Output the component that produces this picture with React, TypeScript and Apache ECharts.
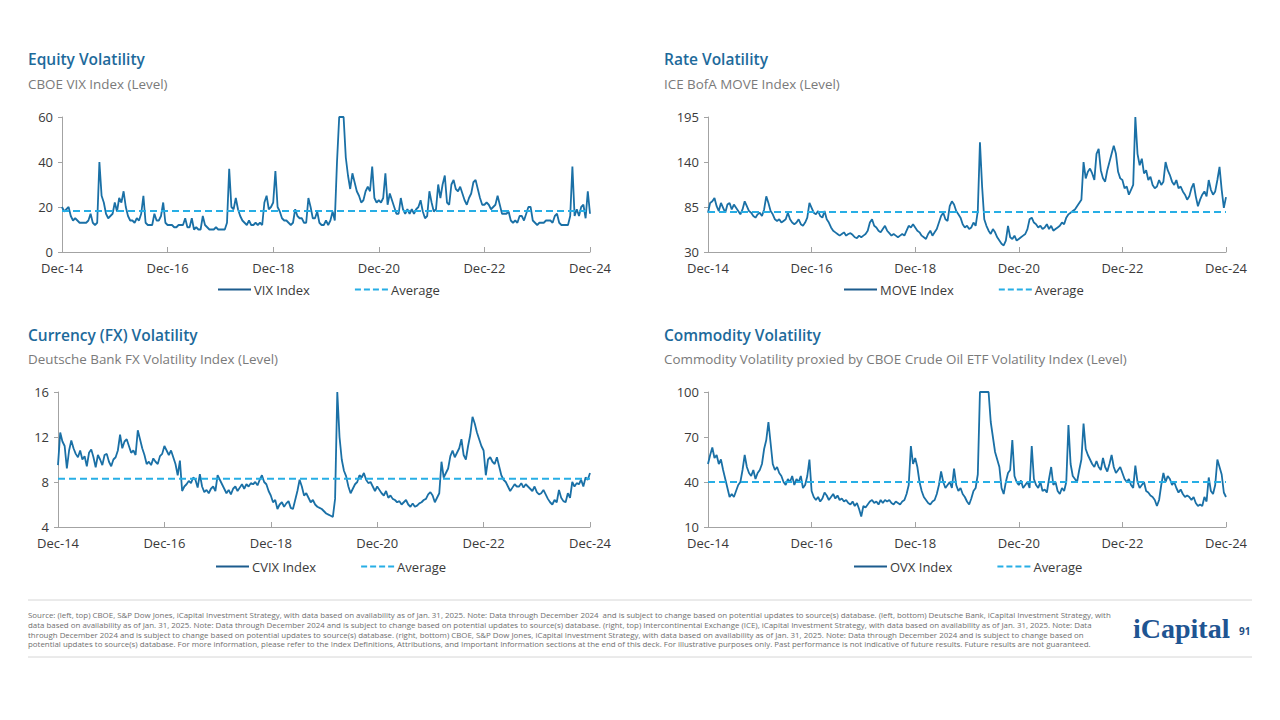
import React, { useEffect, useRef } from "react";
import * as echarts from "echarts";

// Semi-monthly readings, Dec-2014 .. Dec-2024 (241 points each)
const vixValues = [
  20,18, 19,20, 16,14, 15,14, 13,13, 13,13, 14,17, 13,12, 13,40, 25,22, 17,15, 16,17,
  22,18, 24,22, 27,20, 16,14, 14,13, 15,14, 17,25, 13,12, 12,12, 17,14, 14,16, 22,13,
  12,12, 12,11, 11,12, 12,12, 15,11, 11,15, 10,11, 10,10, 16,12, 11,10, 10,10, 11,10,
  10,10, 10,13, 37,20, 19,24, 19,16, 14,13, 12,14, 12,12, 13,12, 13,12, 22,25, 19,20,
  22,36, 20,18, 15,14, 14,13, 12,13, 19,16, 15,15, 13,13, 24,20, 15,15, 18,13, 12,12,
  14,12, 14,18, 14,40, 60,60, 60,42, 34,28, 35,31, 27,25, 22,23, 27,29, 27,38, 24,22,
  23,22, 24,35, 21,26, 23,20, 17,17, 24,19, 17,19, 17,19, 17,19, 20,23, 18,15, 16,27,
  22,18, 19,30, 24,30, 34,22, 21,30, 32,28, 27,29, 26,23, 21,24, 26,31, 32,28, 24,21,
  21,22, 21,19, 20,21, 25,21, 17,17, 17,18, 14,13, 14,13, 16,16, 14,17, 20,20, 14,13,
  12,13, 13,13, 14,14, 14,13, 16,17, 13,12, 12,12, 12,16, 38,16, 19,16, 20,21, 15,27,
  17,
];

const moveValues = [
  78,90, 92,96, 86,80, 90,84, 78,88, 90,82, 88,84, 80,76, 82,92, 86,80, 78,74, 72,76,
  78,74, 82,98, 90,80, 76,70, 68,70, 66,68, 70,78, 70,66, 64,66, 70,64, 62,66, 72,90,
  84,78, 76,80, 74,72, 80,70, 66,60, 56,54, 52,50, 52,54, 50,52, 53,51, 48,47, 50,48,
  50,52, 56,66, 70,62, 60,56, 54,58, 62,56, 53,50, 52,50, 48,50, 52,50, 56,62, 60,64,
  60,56, 54,50, 48,46, 52,56, 50,54, 58,66, 74,78, 70,68, 86,92, 88,80, 76,72, 64,60,
  62,58, 60,66, 62,80, 164,110, 70,62, 56,52, 58,54, 48,44, 40,38, 44,62, 48,46, 50,44,
  46,48, 50,52, 58,70, 72,66, 64,60, 62,58, 60,64, 58,62, 56,58, 60,62, 66,64, 72,76,
  78,80, 82,86, 90,94, 140,120, 128,132, 126,118, 150,156, 130,120, 116,130, 140,150, 160,150, 128,120,
  118,108, 110,100, 106,112, 195,150, 136,144, 126,130, 118,122, 112,108, 110,118, 112,116, 140,130, 124,116,
  112,118, 108,110, 104,100, 94,98, 108,114, 98,86, 94,100, 104,98, 118,106, 100,104, 118,134, 106,84,
  97,
];

const cvixValues = [
  9.5,12.4, 11.6,11.2, 9.2,10.8, 11.7,11.0, 10.5,10.2, 10.8,10.0, 10.3,9.4, 10.6,10.9, 10.2,9.3, 10.4,10.0, 9.5,10.4, 10.5,9.8,
  9.4,10.0, 10.2,10.8, 12.2,11.0, 11.6,11.8, 11.2,10.6, 10.8,10.4, 12.6,11.8, 11.0,10.4, 9.6,9.8, 9.5,10.1, 9.8,9.6, 10.3,10.5,
  11.2,10.8, 10.4,10.8, 10.2,9.6, 8.6,9.9, 7.2,7.6, 7.8,8.1, 7.9,8.4, 8.2,7.5, 8.7,7.6, 7.1,7.3, 7.0,7.4, 7.6,7.2,
  8.6,8.2, 7.8,7.4, 7.0,7.3, 6.9,7.4, 7.6,7.2, 7.5,7.8, 7.4,7.8, 7.6,7.9, 7.8,8.0, 7.7,8.2, 8.6,8.0, 7.8,7.2,
  6.8,6.2, 6.4,5.6, 6.0,6.2, 5.8,6.1, 6.3,5.7, 5.6,6.4, 7.2,8.2, 7.6,6.8, 7.0,6.6, 6.2,6.4, 6.0,5.8, 5.7,5.6,
  5.4,5.2, 5.1,5.0, 4.9,6.5, 16.0,12.0, 10.0,9.0, 8.5,7.6, 7.0,7.4, 7.8,8.0, 8.6,8.4, 8.8,8.2, 7.9,8.0, 7.6,7.2,
  7.6,7.3, 7.0,6.8, 7.2,6.6, 6.8,6.5, 6.4,6.2, 6.3,6.0, 6.2,6.4, 6.0,5.8, 6.1,5.8, 5.9,6.1, 6.2,6.4, 6.5,6.9,
  7.1,6.8, 6.2,6.6, 7.0,9.8, 8.4,8.8, 9.2,10.3, 10.8,10.2, 10.6,11.0, 11.8,10.4, 10.0,11.2, 12.2,13.8, 13.2,12.4, 11.8,11.2,
  10.8,8.6, 10.0,10.2, 9.8,9.6, 10.2,9.4, 8.6,8.2, 8.0,7.6, 7.2,7.5, 7.8,7.6, 7.6,7.9, 7.5,7.8, 7.6,7.4, 7.2,7.6,
  7.1,6.9, 7.0,7.3, 6.9,6.5, 6.2,6.0, 6.4,6.2, 7.3,6.6, 6.3,6.2, 7.0,6.6, 8.0,7.6, 7.9,7.8, 8.2,7.6, 8.4,8.2,
  8.8,
];

const ovxValues = [
  52,58, 63,56, 58,52, 55,48, 42,36, 30,32, 30,34, 38,40, 48,58, 50,46, 44,48, 42,46,
  48,52, 62,68, 80,66, 52,48, 50,46, 44,40, 38,42, 40,44, 38,42, 40,44, 36,38, 44,55,
  34,30, 28,30, 27,29, 33,31, 28,30, 32,29, 31,28, 29,27, 28,26, 25,27, 24,26, 22,17,
  24,23, 25,27, 28,26, 27,25, 28,26, 28,27, 28,26, 25,27, 26,25, 27,28, 32,38, 64,52,
  56,50, 40,34, 30,28, 26,25, 27,28, 32,38, 47,40, 36,38, 40,36, 49,38, 34,36, 32,30,
  27,25, 29,34, 36,45, 100,100, 100,100, 100,80, 70,60, 55,50, 36,32, 40,46, 48,68, 44,40,
  38,41, 36,38, 40,36, 64,42, 38,36, 40,34, 35,33, 42,50, 38,40, 34,32, 36,34, 40,78,
  52,44, 42,40, 48,55, 79,62, 58,55, 52,50, 54,50, 48,56, 50,47, 52,58, 50,46, 48,50,
  46,42, 40,42, 38,36, 51,40, 36,38, 40,34, 33,31, 30,28, 24,28, 38,46, 40,44, 42,38,
  40,36, 33,35, 32,30, 31,30, 28,30, 26,24, 25,24, 30,27, 43,34, 32,38, 55,50, 45,33,
  30,
];

const vixAverage = 18.2;
const moveAverage = 79;
const cvixAverage = 8.3;
const ovxAverage = 40;

const vixTicks = [0, 20, 40, 60];
const moveTicks = [30, 85, 140, 195];
const cvixTicks = [4, 8, 12, 16];
const ovxTicks = [10, 40, 70, 100];

const seriesNames = ["VIX Index", "MOVE Index", "CVIX Index", "OVX Index"];
const titles = ["Equity Volatility", "Rate Volatility", "Currency (FX) Volatility", "Commodity Volatility"];
const subtitles = [
  "CBOE VIX Index (Level)",
  "ICE BofA MOVE Index (Level)",
  "Deutsche Bank FX Volatility Index (Level)",
  "Commodity Volatility proxied by CBOE Crude Oil ETF Volatility Index (Level)",
];

const footerLines = [
  "Source: (left, top) CBOE, S&P Dow Jones, iCapital Investment Strategy, with data based on availability as of Jan. 31, 2025. Note: Data through December 2024  and is subject to change based on potential updates to source(s) database. (left, bottom) Deutsche Bank, iCapital Investment Strategy, with",
  "data based on availability as of Jan. 31, 2025. Note: Data through December 2024 and is subject to change based on potential updates to source(s) database. (right, top) Intercontinental Exchange (ICE), iCapital Investment Strategy, with data based on availability as of Jan. 31, 2025. Note: Data",
  "through December 2024 and is subject to change based on potential updates to source(s) database. (right, bottom) CBOE, S&P Dow Jones, iCapital Investment Strategy, with data based on availability as of Jan. 31, 2025. Note: Data through December 2024 and is subject to change based on",
  "potential updates to source(s) database. For more information, please refer to the Index Definitions, Attributions, and Important Information sections at the end of this deck. For illustrative purposes only. Past performance is not indicative of future results. Future results are not guaranteed.",
];

const MONTHS = ["Jan", "Feb", "Mar", "Apr", "May", "Jun", "Jul", "Aug", "Sep", "Oct", "Nov", "Dec"];

// category dates: two per month starting Dec 2014
const dates: string[] = vixValues.map((_, i) => {
  const m = 11 + Math.floor(i / 2);
  const year = 2014 + Math.floor(m / 12);
  const month = m % 12;
  const day = i % 2 === 0 ? "01" : "16";
  return `${year}-${String(month + 1).padStart(2, "0")}-${day}`;
});

const fmtDate = (v: string) => {
  const [y, m] = v.split("-");
  return `${MONTHS[Number(m) - 1]}-${y.slice(2)}`;
};

const FONT = "'Open Sans', 'Noto Sans', sans-serif";
const LINE_COLOR = "#1a70a6";
const AVG_COLOR = "#27aee5";
const AXIS_COLOR = "#a3a3a3";
const LABEL_COLOR = "#3a3a3a";
const TITLE_COLOR = "#1d6a9b";
const SUB_COLOR = "#7a7a7a";

export default function App() {
  const ref = useRef<HTMLDivElement>(null);

  useEffect(() => {
    if (!ref.current) return;
    const chart = echarts.init(ref.current, undefined, { renderer: "svg" });

    const panels = [
      { values: vixValues, avg: vixAverage, ticks: vixTicks, grid: { left: 62, top: 117, width: 528, height: 135 }, legendLeft: 217, legendTop: 283 },
      { values: moveValues, avg: moveAverage, ticks: moveTicks, grid: { left: 708, top: 117, width: 518, height: 135 }, legendLeft: 843, legendTop: 283 },
      { values: cvixValues, avg: cvixAverage, ticks: cvixTicks, grid: { left: 58, top: 392, width: 532, height: 135 }, legendLeft: 215, legendTop: 560 },
      { values: ovxValues, avg: ovxAverage, ticks: ovxTicks, grid: { left: 708, top: 392, width: 518, height: 135 }, legendLeft: 853, legendTop: 560 },
    ];

    const grids = panels.map((p) => ({ ...p.grid, containLabel: false }));
    const xAxes = panels.map((_, i) => ({
      type: "category",
      gridIndex: i,
      data: dates,
      boundaryGap: false,
      axisLine: { show: true, lineStyle: { color: AXIS_COLOR, width: 1 } },
      axisTick: { show: true, inside: true, length: 5, interval: 47, lineStyle: { color: AXIS_COLOR } },
      axisLabel: { interval: 47, formatter: fmtDate, color: LABEL_COLOR, fontSize: 13, fontFamily: FONT, margin: 9, lineHeight: 13 },
      splitLine: { show: false },
    }));
    const yAxes = panels.map((p, i) => ({
      type: "value",
      gridIndex: i,
      min: p.ticks[0],
      max: p.ticks[p.ticks.length - 1],
      axisLine: { show: true, lineStyle: { color: AXIS_COLOR, width: 1 } },
      axisTick: { show: true, length: 4, lineStyle: { color: AXIS_COLOR }, customValues: p.ticks },
      axisLabel: { color: LABEL_COLOR, fontSize: 13, fontFamily: FONT, margin: 9, lineHeight: 11, customValues: p.ticks },
      splitLine: { show: false },
    }));

    const series: any[] = [];
    panels.forEach((p, i) => {
      series.push({
        name: seriesNames[i],
        type: "line",
        xAxisIndex: i,
        yAxisIndex: i,
        data: p.values,
        showSymbol: false,
        symbol: "none",
        clip: true,
        lineStyle: { color: LINE_COLOR, width: 1.8 },
        itemStyle: { color: LINE_COLOR },
        z: 3,
      });
      series.push({
        name: `Average${i}`,
        type: "line",
        xAxisIndex: i,
        yAxisIndex: i,
        data: p.values.map(() => p.avg),
        showSymbol: false,
        symbol: "none",
        lineStyle: { color: AVG_COLOR, width: 2, type: [7, 4] },
        itemStyle: { color: AVG_COLOR },
        z: 4,
      });
    });

    const legends = panels.map((p, i) => ({
      left: p.legendLeft,
      top: p.legendTop,
      padding: 0,
      itemWidth: 33,
      itemHeight: 14,
      itemGap: 44,
      selectedMode: false,
      textStyle: { color: LABEL_COLOR, fontSize: 13, fontFamily: FONT, padding: [0, 0, 0, -2] },
      formatter: (name: string) => (name.startsWith("Average") ? "Average" : name),
      data: [
        { name: seriesNames[i], itemStyle: { opacity: 0 }, lineStyle: { color: "#1c5c8e", width: 2 } },
        { name: `Average${i}`, itemStyle: { opacity: 0 }, lineStyle: { color: AVG_COLOR, width: 2, type: [6, 3] } },
      ],
    }));

    const txt = (x: number, y: number, text: string, size: number, fill: string, weight: any = "normal", family = FONT) => ({
      type: "text",
      x,
      y,
      silent: true,
      style: { text, fill, fontSize: size, fontWeight: weight, fontFamily: family, verticalAlign: "middle", align: "left" },
    });

    const titlePos = [
      [28, 59, 84],
      [664, 59, 84],
      [28, 335, 359],
      [664, 335, 359],
    ];
    const graphics: any[] = [];
    titlePos.forEach(([x, ty, sy], i) => {
      graphics.push(txt(x, ty, titles[i], 15.5, TITLE_COLOR, 600));
      graphics.push(txt(x, sy, subtitles[i], 13.4, SUB_COLOR));
    });
    graphics.push({ type: "line", silent: true, shape: { x1: 28, y1: 600, x2: 1252, y2: 600 }, style: { stroke: "#d6d6d6", lineWidth: 1 } });
    graphics.push({ type: "line", silent: true, shape: { x1: 28, y1: 657, x2: 1252, y2: 657 }, style: { stroke: "#d6d6d6", lineWidth: 1 } });
    footerLines.forEach((l, i) => graphics.push(txt(28, 615 + i * 9.8, l, 7.9, "#707070")));
    graphics.push(txt(1133, 628, "iCapital", 28, "#1f5592", "bold", "'Liberation Serif', serif"));
    graphics.push(txt(1227, 634, ".", 12, "#1f5592", "bold", "'Liberation Serif', serif"));
    graphics.push(txt(1239, 631, "91", 10, "#1f4f85", "bold"));

    chart.setOption({
      animation: false,
      backgroundColor: "#ffffff",
      textStyle: { fontFamily: FONT },
      grid: grids,
      xAxis: xAxes,
      yAxis: yAxes,
      legend: legends,
      series,
      graphic: graphics,
    });

    return () => chart.dispose();
  }, []);

  return (
    <div
      ref={ref}
      style={{ position: "fixed", left: 0, top: 0, width: 1280, height: 720, background: "#fff" }}
    />
  );
}
